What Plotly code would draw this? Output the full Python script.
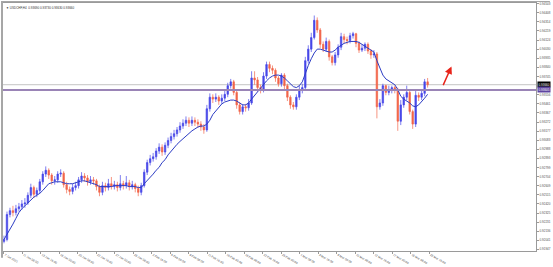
import plotly.graph_objects as go

# ---------------- data ----------------
symbol_title = "▼ USDCHF,H4  0.93690 0.93730 0.93630 0.93660"

first_open = 0.9203

close = [
    0.9205, 0.9231, 0.9235, 0.9233, 0.9237, 0.9239, 0.9242, 0.9243, 0.9251, 0.9259,
    0.9252, 0.9256, 0.9265, 0.9273, 0.9277, 0.9272, 0.9266, 0.9267, 0.9273, 0.9274,
    0.9262, 0.9257, 0.9255, 0.9259, 0.9261, 0.9267, 0.9271, 0.9269, 0.9265, 0.9267,
    0.9266, 0.9260, 0.9254, 0.9261, 0.9259, 0.9263, 0.9260, 0.9262, 0.9259, 0.9263,
    0.9261, 0.9264, 0.9260, 0.9262, 0.9258, 0.9254, 0.9261, 0.9275, 0.9285, 0.9289,
    0.9291, 0.9297, 0.9301, 0.9296, 0.9303, 0.9308, 0.9312, 0.9315, 0.9319, 0.9323,
    0.9326, 0.9329, 0.9326, 0.9329, 0.9327, 0.9325, 0.9322, 0.9319, 0.9341, 0.9353,
    0.9351, 0.9353, 0.9349, 0.9352, 0.9356, 0.9365, 0.9369, 0.9358, 0.9345, 0.9338,
    0.9343, 0.9342, 0.9347, 0.9373, 0.9371, 0.9363, 0.9361, 0.9375, 0.9387, 0.9383,
    0.9381, 0.9373, 0.9367, 0.9376, 0.9365, 0.9353, 0.9345, 0.9343, 0.9353, 0.9361,
    0.9363, 0.9391, 0.9403, 0.9415, 0.9433, 0.9423, 0.9408, 0.9403, 0.9411, 0.9395,
    0.9389, 0.9397, 0.9405, 0.9416, 0.9413, 0.9412, 0.9417, 0.9419, 0.9409, 0.9402,
    0.9404, 0.9408, 0.9401, 0.9397, 0.9398, 0.9343, 0.9347, 0.9365, 0.9358, 0.9361,
    0.9363, 0.9361, 0.9328, 0.9345, 0.9353, 0.9358, 0.9338, 0.9325, 0.9355, 0.9353,
    0.9357, 0.9369, 0.9366,
]

high = [
    0.9209, 0.9234, 0.9238, 0.9240, 0.9241, 0.9243, 0.9246, 0.9248, 0.9254, 0.9263,
    0.9261, 0.9259, 0.9268, 0.9276, 0.9281, 0.9279, 0.9274, 0.9271, 0.9276, 0.9278,
    0.9276, 0.9265, 0.9260, 0.9263, 0.9265, 0.9270, 0.9275, 0.9274, 0.9272, 0.9271,
    0.9270, 0.9268, 0.9262, 0.9265, 0.9264, 0.9268, 0.9270, 0.9266, 0.9265, 0.9272,
    0.9266, 0.9271, 0.9267, 0.9266, 0.9264, 0.9261, 0.9264, 0.9278, 0.9288, 0.9293,
    0.9295, 0.9300, 0.9305, 0.9304, 0.9306, 0.9311, 0.9316, 0.9319, 0.9322, 0.9327,
    0.9330, 0.9333, 0.9332, 0.9333, 0.9332, 0.9330, 0.9328, 0.9325, 0.9345, 0.9357,
    0.9356, 0.9357, 0.9355, 0.9356, 0.9360, 0.9368, 0.9372, 0.9371, 0.9360, 0.9348,
    0.9346, 0.9346, 0.9351, 0.9380, 0.9380, 0.9374, 0.9366, 0.9379, 0.9390, 0.9390,
    0.9386, 0.9383, 0.9375, 0.9378, 0.9378, 0.9367, 0.9355, 0.9348, 0.9356, 0.9365,
    0.9367, 0.9395, 0.9407, 0.9420, 0.9438, 0.9436, 0.9425, 0.9411, 0.9415, 0.9413,
    0.9397, 0.9400, 0.9408, 0.9420, 0.9419, 0.9416, 0.9420, 0.9421, 0.9420, 0.9411,
    0.9408, 0.9410, 0.9410, 0.9403, 0.9402, 0.9400, 0.9351, 0.9367, 0.9366, 0.9365,
    0.9365, 0.9365, 0.9363, 0.9350, 0.9356, 0.9365, 0.9360, 0.9340, 0.9360, 0.9358,
    0.9361, 0.9372, 0.9373,
]

low = [
    0.9201, 0.9203, 0.9228, 0.9229, 0.9230, 0.9234, 0.9236, 0.9238, 0.9241, 0.9248,
    0.9248, 0.9249, 0.9253, 0.9262, 0.9270, 0.9268, 0.9262, 0.9262, 0.9264, 0.9270,
    0.9259, 0.9253, 0.9251, 0.9252, 0.9256, 0.9258, 0.9264, 0.9265, 0.9261, 0.9262,
    0.9262, 0.9256, 0.9250, 0.9251, 0.9255, 0.9256, 0.9257, 0.9257, 0.9255, 0.9256,
    0.9257, 0.9258, 0.9256, 0.9257, 0.9254, 0.9250, 0.9251, 0.9259, 0.9272, 0.9282,
    0.9286, 0.9288, 0.9294, 0.9292, 0.9293, 0.9300, 0.9305, 0.9309, 0.9312, 0.9316,
    0.9320, 0.9323, 0.9322, 0.9323, 0.9323, 0.9321, 0.9318, 0.9315, 0.9317, 0.9338,
    0.9347, 0.9348, 0.9345, 0.9346, 0.9349, 0.9353, 0.9362, 0.9355, 0.9341, 0.9335,
    0.9335, 0.9338, 0.9339, 0.9345, 0.9366, 0.9359, 0.9357, 0.9358, 0.9372, 0.9379,
    0.9377, 0.9369, 0.9364, 0.9364, 0.9361, 0.9349, 0.9341, 0.9340, 0.9340, 0.9350,
    0.9357, 0.9360, 0.9388, 0.9400, 0.9413, 0.9420, 0.9404, 0.9400, 0.9400, 0.9391,
    0.9386, 0.9386, 0.9394, 0.9402, 0.9409, 0.9408, 0.9409, 0.9414, 0.9405, 0.9399,
    0.9400, 0.9401, 0.9398, 0.9393, 0.9394, 0.9331, 0.9340, 0.9344, 0.9355, 0.9355,
    0.9357, 0.9357, 0.9318, 0.9324, 0.9342, 0.9350, 0.9335, 0.9320, 0.9322, 0.9349,
    0.9350, 0.9354, 0.9363,
]

moving_avg = [
    0.9205, 0.9210, 0.9215, 0.9221, 0.9227, 0.9233, 0.9237, 0.9240, 0.9243, 0.9247,
    0.9249, 0.9251, 0.9253, 0.9256, 0.9260, 0.9263, 0.9264, 0.9265, 0.9265, 0.9265,
    0.9264, 0.9263, 0.9263, 0.9263, 0.9264, 0.9265, 0.9266, 0.9266, 0.9265, 0.9264,
    0.9263, 0.9262, 0.9260, 0.9260, 0.9260, 0.9260, 0.9260, 0.9261, 0.9261, 0.9261,
    0.9261, 0.9261, 0.9260, 0.9260, 0.9260, 0.9259, 0.9259, 0.9263, 0.9266, 0.9270,
    0.9273, 0.9277, 0.9280, 0.9285, 0.9288, 0.9293, 0.9297, 0.9301, 0.9304, 0.9307,
    0.9310, 0.9313, 0.9316, 0.9318, 0.9320, 0.9322, 0.9323, 0.9323, 0.9325, 0.9329,
    0.9335, 0.9339, 0.9343, 0.9346, 0.9348, 0.9349, 0.9350, 0.9350, 0.9349, 0.9347,
    0.9345, 0.9345, 0.9347, 0.9351, 0.9355, 0.9359, 0.9362, 0.9366, 0.9370, 0.9373,
    0.9375, 0.9376, 0.9376, 0.9375, 0.9373, 0.9370, 0.9367, 0.9364, 0.9363, 0.9365,
    0.9369, 0.9378, 0.9386, 0.9393, 0.9399, 0.9403, 0.9403, 0.9402, 0.9401, 0.9400,
    0.9400, 0.9402, 0.9405, 0.9407, 0.9409, 0.9410, 0.9411, 0.9411, 0.9411, 0.9410,
    0.9408, 0.9406, 0.9404, 0.9402, 0.9400, 0.9391, 0.9383, 0.9376, 0.9372, 0.9370,
    0.9368, 0.9366, 0.9361, 0.9354, 0.9351, 0.9349, 0.9347, 0.9344, 0.9343, 0.9345,
    0.9348, 0.9352, 0.9356,
]

x_tick_labels = [
    "7 Jan 2021", "11 Jan 08:00", "13 Jan 16:00", "18 Jan 00:00", "20 Jan 08:00",
    "22 Jan 16:00", "27 Jan 00:00", "29 Jan 08:00", "2 Feb 16:00", "5 Feb 00:00",
    "9 Feb 08:00", "11 Feb 16:00", "16 Feb 00:00", "18 Feb 08:00", "22 Feb 16:00",
    "25 Feb 00:00", "1 Mar 08:00", "3 Mar 16:00", "8 Mar 00:00", "10 Mar 08:00",
    "12 Mar 16:00", "17 Mar 00:00", "19 Mar 08:00", "23 Mar 16:00",
]

y_tick_values = [
    0.94503, 0.94408, 0.94314, 0.94219, 0.94124, 0.94030, 0.93935, 0.93840, 0.93745,
    0.93556, 0.93461, 0.93367, 0.93272, 0.93177, 0.93083, 0.92988, 0.92893, 0.92799,
    0.92704, 0.92609, 0.92515, 0.92420, 0.92325, 0.92231, 0.92136, 0.92041, 0.91947,
]
y_tick_labels = [f"{v:.5f}" for v in y_tick_values]

bid_price = 0.93660
level_price = 0.93605
arrow_tail = (147, 0.9364)
arrow_head = (150, 0.9385)

# ---------------- styling ----------------
UP = "#4848e8"
DOWN = "#f2654a"
MA_COLOR = "#2c3cc4"
LEVEL_COLOR = "#9a84b6"
AXIS_COLOR = "#9a9a9a"
TEXT_COLOR = "#505050"
FONT = "Liberation Sans, Arial, sans-serif"

W, H = 553, 267
ML, MR, MT, MB = 2, 14, 2, 7
PW = W - ML - MR
PH = H - MT - MB

bars = list(range(len(close)))
open_ = [first_open] + close[:-1]
x_tick_pos = [k * 6.2 for k in range(len(x_tick_labels))]

fig = go.Figure()
fig.add_trace(go.Candlestick(
    x=bars, open=open_, high=high, low=low, close=close,
    increasing=dict(line=dict(color=UP, width=0.7), fillcolor=UP),
    decreasing=dict(line=dict(color=DOWN, width=0.7), fillcolor=DOWN),
    whiskerwidth=0, hoverinfo="skip", showlegend=False,
))
fig.add_trace(go.Scatter(
    x=bars, y=moving_avg, mode="lines",
    line=dict(color=MA_COLOR, width=1), hoverinfo="skip", showlegend=False,
))

shapes = [
    dict(type="line", xref="paper", x0=0, x1=1, yref="y", y0=bid_price, y1=bid_price,
         line=dict(color="#c4c4c4", width=1), layer="below"),
    dict(type="line", xref="paper", x0=0, x1=1, yref="y", y0=level_price, y1=level_price,
         line=dict(color=LEVEL_COLOR, width=2)),
    # window frame: left bar and top line
    dict(type="rect", xref="paper", yref="paper", x0=-ML / PW, x1=0,
         y0=-MB / PH, y1=1 + MT / PH, fillcolor="#a6a6a6", line=dict(width=0)),
    dict(type="rect", xref="paper", yref="paper", x0=-ML / PW, x1=1 + MR / PW,
         y0=1 + (MT - 1) / PH, y1=1 + MT / PH, fillcolor="#a6a6a6", line=dict(width=0)),
]

annotations = [
    dict(xref="paper", yref="paper", x=0.002, y=0.996, xanchor="left", yanchor="top",
         text=symbol_title, showarrow=False, font=dict(size=3, color="#303030", family=FONT)),
    dict(xref="paper", yref="y", x=1, y=bid_price, xanchor="left", yanchor="middle",
         xshift=1, text=f"{bid_price:.5f}", showarrow=False, bgcolor="#000000",
         borderpad=0.6, font=dict(size=3, color="#ffffff", family=FONT)),
    dict(xref="paper", yref="y", x=1, y=level_price, xanchor="left", yanchor="middle",
         xshift=1, text=f"{level_price:.5f}", showarrow=False, bgcolor="#5d44a0",
         borderpad=0.6, font=dict(size=3, color="#ffffff", family=FONT)),
    dict(x=arrow_head[0], y=arrow_head[1], xref="x", yref="y",
         ax=arrow_tail[0], ay=arrow_tail[1], axref="x", ayref="y",
         text="", showarrow=True, arrowhead=2, arrowsize=1, arrowwidth=1.5,
         arrowcolor="#e8241a"),
]

fig.update_layout(
    width=W, height=H,
    margin=dict(l=ML, r=MR, t=MT, b=MB, pad=0),
    paper_bgcolor="#ffffff", plot_bgcolor="#ffffff",
    font=dict(family=FONT, size=3, color=TEXT_COLOR),
    shapes=shapes, annotations=annotations,
    xaxis=dict(
        range=[-1 / 3, (PW - 1) / 3 - 1 / 3], rangeslider=dict(visible=False),
        tickmode="array", tickvals=x_tick_pos, ticktext=x_tick_labels,
        ticklabelposition="outside right", tickfont=dict(size=3, color=TEXT_COLOR),
        ticks="outside", ticklen=2, tickcolor=AXIS_COLOR,
        showgrid=False, zeroline=False, showline=True, mirror=True,
        linecolor=AXIS_COLOR, linewidth=1,
    ),
    yaxis=dict(
        side="right", range=[0.9193, 0.9451],
        tickmode="array", tickvals=y_tick_values, ticktext=y_tick_labels,
        tickfont=dict(size=3, color=TEXT_COLOR),
        ticks="outside", ticklen=2, tickcolor=AXIS_COLOR,
        showgrid=False, zeroline=False, showline=True, mirror=True,
        linecolor=AXIS_COLOR, linewidth=1,
    ),
    hovermode=False,
)

fig.write_html("out.html", config={"displayModeBar": False})
